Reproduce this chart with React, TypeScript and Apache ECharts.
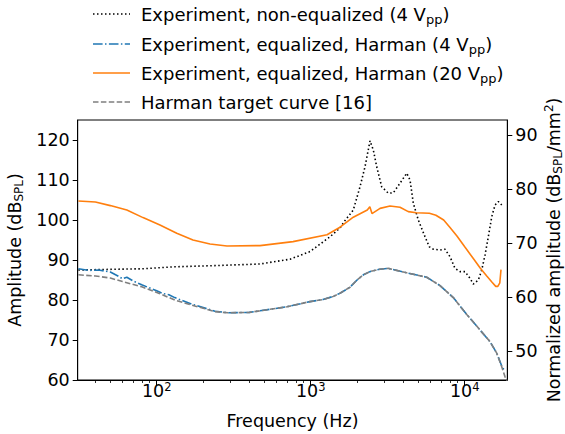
import React, { useEffect, useRef } from "react";
import * as echarts from "echarts";

// Frequency (Hz) / amplitude (dB SPL) pairs
const nonEqFreq = [31, 56, 80, 131, 239, 469, 734, 989, 1334, 1550, 1650, 1890, 2090, 2252, 2427, 2550, 2683, 2891, 3191, 3439, 3802, 4202, 4414, 4637, 4996, 5524, 5891, 6254, 6914, 7449, 8028, 8650, 9322, 10044, 10825, 11370, 12255, 12897, 13547, 14230, 14975, 15734, 16530, 17393];
const nonEqVal = [87.5, 87.7, 87.8, 88.3, 88.6, 89.0, 90.2, 92.1, 95.8, 98.0, 99.6, 102.5, 108.3, 113.3, 119.8, 117.5, 113.3, 108.3, 106.7, 106.8, 109.2, 111.7, 110.0, 104.2, 100.0, 95.8, 93.3, 92.7, 92.5, 92.7, 90.8, 87.9, 87.1, 87.1, 85.4, 84.0, 85.0, 87.5, 91.25, 95.8, 100.8, 103.75, 104.6, 103.75];

const eq4Freq = [31, 36, 42, 50, 56, 60, 64, 70, 80, 100, 110, 120, 131, 168, 239, 290, 400, 469, 700, 989, 1200, 1400, 1550, 1800, 2000, 2200, 2427, 2800, 3191, 4202, 5665, 6914, 8433, 10305, 12573, 14590, 16141, 17393, 18000];
const eq4Val = [87.8, 87.4, 87.5, 87.0, 86.0, 85.3, 85.7, 84.8, 83.8, 82.3, 81.6, 81.3, 80.6, 79.0, 77.2, 76.8, 76.9, 77.3, 78.3, 79.6, 80.1, 80.9, 81.7, 83.2, 85.0, 86.3, 87.1, 87.7, 87.9, 86.8, 85.7, 83.6, 80.6, 76.4, 72.5, 69.6, 66.7, 63.5, 62.5];

const eq20Freq = [31, 40, 50, 64, 81.5, 105, 135, 172, 222, 286, 469, 768, 1276, 1550, 1890, 2330, 2420, 2500, 2820, 3273, 3800, 4300, 4850, 5900, 6500, 7300, 8000, 8900, 10000, 11400, 12600, 13900, 15000, 15900, 16400, 16900, 17200];
const eq20Val = [104.75, 104.5, 103.6, 102.5, 100.6, 98.75, 96.7, 95.0, 94.0, 93.5, 93.6, 94.6, 96.3, 98.2, 100.7, 102.5, 103.3, 101.6, 102.9, 103.5, 103.2, 102.1, 101.8, 101.7, 101.2, 100.0, 98.2, 96.0, 93.3, 90.3, 88.0, 86.0, 84.5, 83.4, 83.4, 84.3, 87.6];

const harmanFreq = [31, 40, 50, 60, 80, 103, 131, 168, 239, 290, 400, 469, 700, 989, 1200, 1400, 1550, 1800, 2000, 2200, 2427, 2800, 3191, 4202, 5665, 6914, 8433, 10305, 12573, 14590, 16141, 17393, 18270, 18825];
const harmanVal = [86.3, 86.0, 85.5, 84.6, 83.3, 81.7, 80.0, 78.75, 77.1, 76.8, 76.9, 77.3, 78.3, 79.6, 80.1, 80.9, 81.7, 83.2, 85.0, 86.3, 87.1, 87.7, 87.9, 86.8, 85.7, 83.6, 80.6, 76.4, 72.5, 69.6, 66.7, 63.3, 60.8, 59.8];

const xMajorTicks = [100, 1000, 10000];
const xMinorTicks = [40, 50, 60, 70, 80, 90, 200, 300, 400, 500, 600, 700, 800, 900, 2000, 3000, 4000, 5000, 6000, 7000, 8000, 9000];
const leftTicks = [60, 70, 80, 90, 100, 110, 120];
const rightTicks = [50, 60, 70, 80, 90];

const legendLabels = [
  "Experiment, non-equalized (4 V{sub|pp})",
  "Experiment, equalized, Harman (4 V{sub|pp})",
  "Experiment, equalized, Harman (20 V{sub|pp})",
  "Harman target curve [16]",
];

const FONT = "DejaVu Sans";
const FS = 17.5;
const LFS = 18;

export default function App() {
  const ref = useRef<HTMLDivElement>(null);
  useEffect(() => {
    if (!ref.current) return;
    const chart = echarts.init(ref.current, null, { renderer: "svg" });
    const toXY = (f: number[], v: number[]) => f.map((x, i) => [Math.log10(x), v[i]]);
    const xMin = Math.log10(30.7);
    const xMax = Math.log10(18900);
    const subRich = {
      sub: { fontSize: 12, lineHeight: 11, verticalAlign: "bottom", fontFamily: FONT, color: "#000" },
      sup: { fontSize: 12, lineHeight: 11, verticalAlign: "top", fontFamily: FONT, color: "#000" },
    };
    const styles = [
      { color: "#000000", type: [1.5, 2.5], width: 1.6 },
      { color: "#1f77b4", type: [9.6, 2.4, 1.5, 2.4], width: 1.6 },
      { color: "#ff7f0e", type: "solid", width: 1.6 },
      { color: "#7f7f7f", type: [5.5, 2.4], width: 1.6 },
    ];
    const datas = [
      toXY(nonEqFreq, nonEqVal),
      toXY(eq4Freq, eq4Val),
      toXY(eq20Freq, eq20Val),
      toXY(harmanFreq, harmanVal),
    ];
    const rowY = [14, 44, 73, 102];
    const graphic: any[] = [];
    legendLabels.forEach((lab, i) => {
      graphic.push({
        type: "line",
        shape: { x1: 93, y1: rowY[i], x2: 130, y2: rowY[i] },
        style: {
          stroke: styles[i].color,
          lineWidth: 1.6,
          lineDash: Array.isArray(styles[i].type) ? styles[i].type : null,
        },
      });
      graphic.push({
        type: "text",
        x: 141,
        y: rowY[i],
        style: {
          text: lab,
          fontSize: LFS,
          fontFamily: FONT,
          fill: "#000",
          verticalAlign: "middle",
          lineHeight: 23,
          rich: {
            sub: { fontSize: 13, lineHeight: 12, verticalAlign: "bottom", fontFamily: FONT, fill: "#000" },
          },
        },
      });
    });

    chart.setOption({
      animation: false,
      backgroundColor: "#fff",
      textStyle: { fontFamily: FONT },
      grid: {
        left: 77.7,
        right: 57.7,
        top: 120,
        bottom: 54,
        containLabel: false,
        outerBoundsMode: "none",
        show: true,
        borderColor: "#000",
        borderWidth: 1,
        backgroundColor: "transparent",
      },
      graphic,
      xAxis: [
        {
          type: "value",
          min: xMin,
          max: xMax,
          position: "bottom",
          axisLine: { show: true, lineStyle: { color: "#000", width: 1 } },
          splitLine: { show: false },
          axisTick: {
            show: true,
            length: 5,
            customValues: xMajorTicks.map((v) => Math.log10(v)),
            lineStyle: { color: "#000", width: 1 },
          },
          axisLabel: {
            customValues: xMajorTicks.map((v) => Math.log10(v)),
            formatter: (v: number) => `10{sup|${Math.round(v)}}`,
            fontSize: FS,
            lineHeight: 20,
            color: "#000",
            fontFamily: FONT,
            margin: 1,
            rich: { sup: { fontSize: 11.5, lineHeight: 12, verticalAlign: "top", fontFamily: FONT, color: "#000" } },
          },
          name: "Frequency (Hz)",
          nameLocation: "middle",
          nameGap: 32,
          nameTextStyle: { fontSize: FS, color: "#000", fontFamily: FONT },
        },
        {
          type: "value",
          min: xMin,
          max: xMax,
          position: "bottom",
          axisLine: { show: false },
          splitLine: { show: false },
          axisTick: {
            show: true,
            length: 3,
            customValues: xMinorTicks.map((v) => Math.log10(v)),
            lineStyle: { color: "#000", width: 0.8 },
          },
          axisLabel: { show: false },
        },
      ],
      yAxis: [
        {
          type: "value",
          min: 60,
          max: 125,
          position: "left",
          axisLine: { show: true, lineStyle: { color: "#000", width: 1 } },
          splitLine: { show: false },
          axisTick: { show: true, length: 5, customValues: leftTicks, lineStyle: { color: "#000", width: 1 } },
          axisLabel: { customValues: leftTicks, fontSize: FS, color: "#000", fontFamily: FONT, margin: 8 },
          name: "Amplitude (dB{sub|SPL})",
          nameLocation: "middle",
          nameRotate: 90,
          nameGap: 50,
          nameTextStyle: { fontSize: FS, color: "#000", fontFamily: FONT, lineHeight: 21, rich: subRich },
        },
        {
          type: "value",
          min: 44.63,
          max: 92.78,
          position: "right",
          axisLine: { show: true, lineStyle: { color: "#000", width: 1 } },
          splitLine: { show: false },
          axisTick: { show: true, length: 5, customValues: rightTicks, lineStyle: { color: "#000", width: 1 } },
          axisLabel: { customValues: rightTicks, fontSize: FS, color: "#000", fontFamily: FONT, margin: 8 },
          name: "Normalized amplitude (dB{sub|SPL}/mm{sup|2})",
          nameLocation: "middle",
          nameRotate: 90,
          nameGap: 36,
          nameMoveOverlap: false,
          nameTextStyle: { fontSize: FS, color: "#000", fontFamily: FONT, lineHeight: 21, rich: subRich },
        },
      ],
      series: datas.map((d, i) => ({
        type: "line",
        xAxisIndex: 0,
        yAxisIndex: 0,
        data: d,
        showSymbol: false,
        symbol: "none",
        smooth: false,
        clip: true,
        lineStyle: { color: styles[i].color, width: styles[i].width, type: styles[i].type as any },
        z: 2 + i,
      })),
    });
    return () => chart.dispose();
  }, []);
  return (
    <div
      ref={ref}
      style={{ position: "fixed", left: 0, top: 0, width: 565, height: 434, background: "#fff" }}
    />
  );
}
